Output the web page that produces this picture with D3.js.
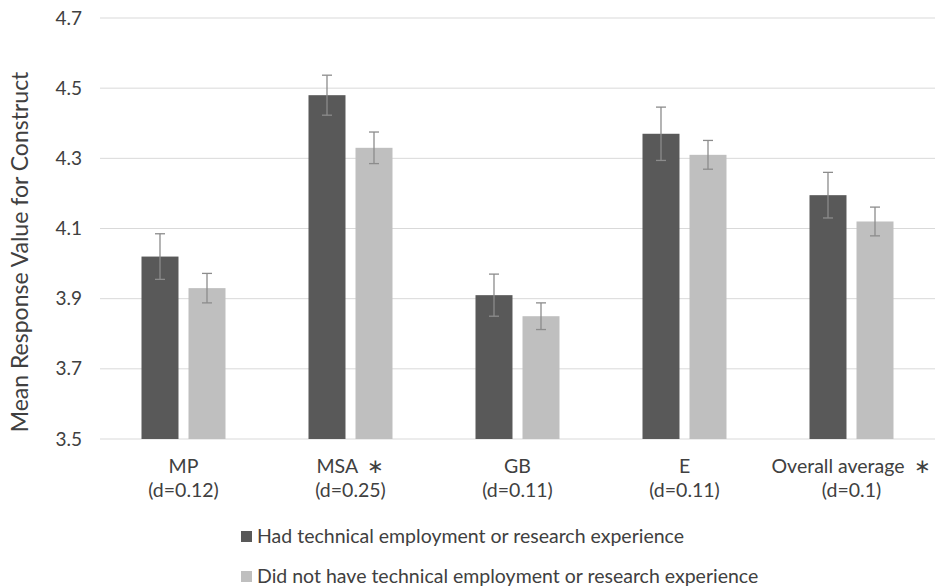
<!DOCTYPE html>
<html>
<head>
<meta charset="utf-8">
<script src="https://cdn.jsdelivr.net/npm/d3@7"></script>
<style>
  body { margin: 0; background: #fff; }
  text { font-family: Lato, "Open Sans", sans-serif; fill: #404040; }
</style>
</head>
<body>
<div id="chart"></div>
<script>
// categories and their effect size labels
var categories = ["MP", "MSA", "GB", "E", "Overall average"];
var catLabels = ["MP", "MSA \u00a0\u2217", "GB", "E", "Overall average \u00a0\u2217"];
var dLabels = ["(d=0.12)", "(d=0.25)", "(d=0.11)", "(d=0.11)", "(d=0.1)"];

var seriesNames = ["Had technical employment or research experience",
                   "Did not have technical employment or research experience"];
// mean values
var hadExp = [4.02, 4.48, 3.91, 4.37, 4.195];
var noExp = [3.93, 4.33, 3.85, 4.31, 4.12];
// error bar half widths
var hadErr = [0.065, 0.057, 0.06, 0.076, 0.065];
var noErr = [0.042, 0.045, 0.038, 0.041, 0.041];

var yTicks = [3.5, 3.7, 3.9, 4.1, 4.3, 4.5, 4.7];
var colors = ["#595959", "#bfbfbf"];

var width = 939, height = 586;

var svg = d3.select("#chart").append("svg")
    .attr("width", width)
    .attr("height", height);

// scales
var y = d3.scaleLinear().domain([3.5, 4.7]).range([439, 18]);

var x0 = d3.scaleBand()
    .domain(categories)
    .range([100, 935])
    .paddingInner(0.497)
    .paddingOuter(0.2485);

var x1 = d3.scaleBand()
    .domain([0, 1])
    .range([0, x0.bandwidth()])
    .paddingInner(0.213);

// gridlines
svg.append("g").selectAll("line")
    .data(yTicks).enter()
    .append("line")
    .attr("x1", 100).attr("x2", 935)
    .attr("y1", function (d) { return y(d); })
    .attr("y2", function (d) { return y(d); })
    .style("stroke", "#d9d9d9")
    .style("stroke-width", 1);

// y axis tick labels
var yAxis = svg.append("g")
    .attr("transform", "translate(82,0)")
    .call(d3.axisLeft(y).tickValues(yTicks).tickFormat(d3.format(".1f")).tickSize(0).tickPadding(0));
yAxis.select(".domain").remove();
yAxis.selectAll("text")
    .style("font-size", "19px")
    .style("font-family", "Lato, sans-serif")
    .attr("fill", "#404040");

// y axis title
svg.append("text")
    .attr("transform", "translate(28,252) rotate(-90)")
    .attr("text-anchor", "middle")
    .style("font-size", "23px")
    .text("Mean Response Value for Construct");

// build rows
var rows = categories.map(function (c, i) {
    return {
        cat: c,
        vals: [
            {s: 0, v: hadExp[i], e: hadErr[i]},
            {s: 1, v: noExp[i], e: noErr[i]}
        ]
    };
});

var groups = svg.append("g").selectAll("g")
    .data(rows).enter()
    .append("g")
    .attr("transform", function (d) { return "translate(" + x0(d.cat) + ",0)"; });

groups.selectAll("rect")
    .data(function (d) { return d.vals; })
    .enter().append("rect")
    .attr("x", function (d) { return x1(d.s); })
    .attr("width", x1.bandwidth())
    .attr("y", function (d) { return y(d.v); })
    .attr("height", function (d) { return y(3.5) - y(d.v); })
    .style("fill", function (d) { return colors[d.s]; });

// error bars
var eb = groups.selectAll("g.err")
    .data(function (d) { return d.vals; })
    .enter().append("g")
    .attr("class", "err")
    .attr("transform", function (d) { return "translate(" + (x1(d.s) + x1.bandwidth() / 2) + ",0)"; });

eb.append("line")
    .attr("x1", 0).attr("x2", 0)
    .attr("y1", function (d) { return y(d.v + d.e); })
    .attr("y2", function (d) { return y(d.v - d.e); })
    .style("stroke", "#8c8c8c").style("stroke-width", 1.3);
eb.append("line")
    .attr("x1", -5).attr("x2", 5)
    .attr("y1", function (d) { return y(d.v + d.e); })
    .attr("y2", function (d) { return y(d.v + d.e); })
    .style("stroke", "#8c8c8c").style("stroke-width", 1.3);
eb.append("line")
    .attr("x1", -5).attr("x2", 5)
    .attr("y1", function (d) { return y(d.v - d.e); })
    .attr("y2", function (d) { return y(d.v - d.e); })
    .style("stroke", "#8c8c8c").style("stroke-width", 1.3);

// category labels
var catG = svg.append("g").selectAll("g")
    .data(categories).enter()
    .append("g")
    .attr("transform", function (d) { return "translate(" + (x0(d) + x0.bandwidth() / 2) + ",0)"; });
catG.append("text")
    .attr("y", 473)
    .attr("text-anchor", "middle")
    .style("font-size", "19.5px")
    .text(function (d, i) { return catLabels[i]; });
catG.append("text")
    .attr("y", 497)
    .attr("text-anchor", "middle")
    .style("font-size", "19.5px")
    .text(function (d, i) { return dLabels[i]; });

// legend
var legend = svg.append("g").selectAll("g")
    .data(seriesNames).enter()
    .append("g")
    .attr("transform", function (d, i) { return "translate(241," + (531 + i * 40) + ")"; });
legend.append("rect")
    .attr("width", 11).attr("height", 11)
    .style("fill", function (d, i) { return colors[i]; });
legend.append("text")
    .attr("x", 16).attr("y", 11.5)
    .style("font-size", "19.5px")
    .text(function (d) { return d; });
</script>
</body>
</html>
